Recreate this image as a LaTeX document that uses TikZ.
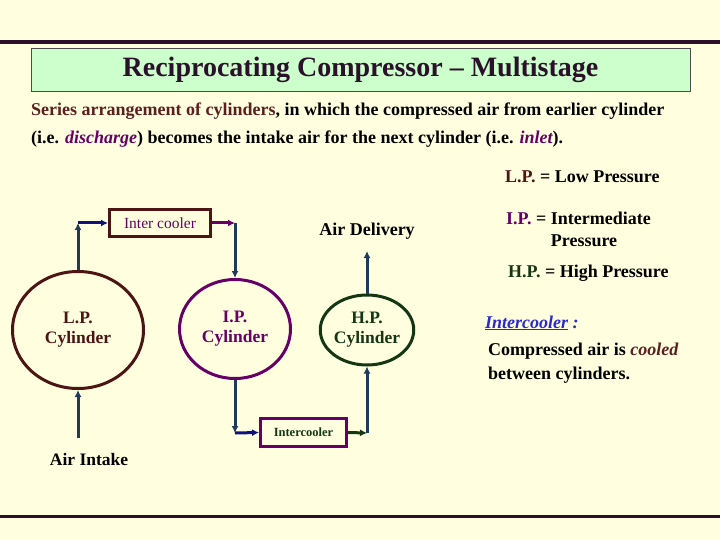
\documentclass[tikz,border=0pt]{standalone}
\usepackage{fontspec}
\setmainfont{Liberation Serif}
\usetikzlibrary{shapes.geometric,arrows.meta}
\usepackage{xcolor}

\definecolor{bgyellow}{HTML}{FFFFE0}
\definecolor{rulepurple}{HTML}{2B0F2B}
\definecolor{titlegreen}{HTML}{CCFFCC}
\definecolor{darkbrown}{HTML}{4D1414}
\definecolor{textbrown}{HTML}{5C1E1E}
\definecolor{plum}{HTML}{660066}
\definecolor{darkgreen}{HTML}{143614}
\definecolor{pipeblue}{HTML}{1F3A5C}
\definecolor{navyline}{HTML}{10107F}
\definecolor{linkblue}{HTML}{2A2ACC}

\begin{document}
\begin{tikzpicture}[x=1pt,y=-1pt,
    cyl/.style={ellipse,draw,line width=3pt,align=center,inner sep=0pt,
        font=\fontsize{17.5}{20}\selectfont\bfseries},
    cooler/.style={rectangle,draw,line width=3pt,inner sep=0pt},
    flow/.style={line width=3pt,pipeblue,-{Latex[length=7pt,width=7pt]}},
    txt/.style={anchor=base west,inner sep=0pt,font=\fontsize{18}{21}\selectfont\bfseries}]
            % background and rules
            \useasboundingbox[fill=bgyellow] (0,0) rectangle (720,540);
            \fill[rulepurple] (0,40) rectangle (720,44);
            \fill[rulepurple] (0,514.5) rectangle (720,517.5);
            \node (title) at (360.5,69.5) [rectangle,draw=black!70,fill=titlegreen,line width=0.8pt,
                minimum width=659,minimum height=43,text=rulepurple,
                font=\fontsize{28}{32}\selectfont\bfseries] {Reciprocating Compressor -- Multistage};
            \node (line1) at (31,115.5) [txt] {\textcolor{textbrown}{Series arrangement of cylinders}, in which the compressed air from earlier cylinder};
            \node (line2) at (31,143.5) [txt] {(i.e. \textcolor{plum}{\itshape discharge}) becomes the intake air for the next cylinder (i.e. \textcolor{plum}{\itshape inlet}).};
            % legend
            \node (lplab) at (505,183) [txt] {\textcolor{darkbrown}{L.P.} = Low Pressure};
            \node (iplab) at (506,225) [txt] {\textcolor{plum}{I.P.} = Intermediate};
            \node (iplab2) at (584,247) [anchor=base,inner sep=0pt,font=\fontsize{18}{21}\selectfont\bfseries] {Pressure};
            \node (hplab) at (508,277) [txt] {\textcolor{darkgreen}{H.P.} = High Pressure};
            \node (iclab) at (485,328) [txt] {\textcolor{linkblue}{\itshape\underline{Intercooler} :}};
            \node (icdef) at (488,355) [txt] {Compressed air is \textcolor{textbrown}{\itshape cooled}};
            \node (icdef2) at (488,379) [txt] {between cylinders.};
            % cylinders and coolers
            \node (lp) at (78,330) [cyl,draw=darkbrown,text=darkbrown,minimum width=131,minimum height=117] {L.P.\\Cylinder};
            \node (ip) at (235,329) [cyl,draw=plum,text=plum,minimum width=111,minimum height=99] {I.P.\\Cylinder};
            \node (hp) at (367,330) [cyl,draw=darkgreen,text=darkgreen,minimum width=80,minimum height=70] {H.P.\\Cylinder};
            \node (ic1) at (160,223) [cooler,draw=darkbrown,text=plum,minimum width=101,minimum height=27,
                font=\fontsize{15.5}{18}\selectfont] {Inter cooler};
            \node (ic2) at (303.5,432.5) [cooler,draw=plum,text=darkgreen,minimum width=86,minimum height=28,
                font=\fontsize{12.5}{15}\selectfont\bfseries] {Intercooler};
            \node (intake) at (89,460) [font=\fontsize{17.5}{20}\selectfont\bfseries] {Air Intake};
            \node (delivery) at (367,231) [font=\fontsize{18}{21}\selectfont\bfseries] {Air Delivery};
            \coordinate (a) at (78,438);
            \coordinate (b) at (78,223);
            \coordinate (c) at (235,223);
            \coordinate (d) at (235,433);
            \coordinate (e) at (367,433);
            \coordinate (f) at (367,251);
            % piping
            \draw[flow] (a) -- (lp.south);
            \draw[flow] (lp.north) -- (b);
            \draw[flow,navyline] (b) -- (ic1.west);
            \draw[flow,plum] (ic1.east) -- (c);
            \draw[flow] (c) -- (ip.north);
            \draw[flow] (ip.south) -- (d);
            \draw[flow,navyline] (d) -- (ic2.west);
            \draw[flow,darkgreen] (ic2.east) -- (e);
            \draw[flow] (e) -- (hp.south);
            \draw[flow] (hp.north) -- (f);
        \end{tikzpicture}
\end{document}
